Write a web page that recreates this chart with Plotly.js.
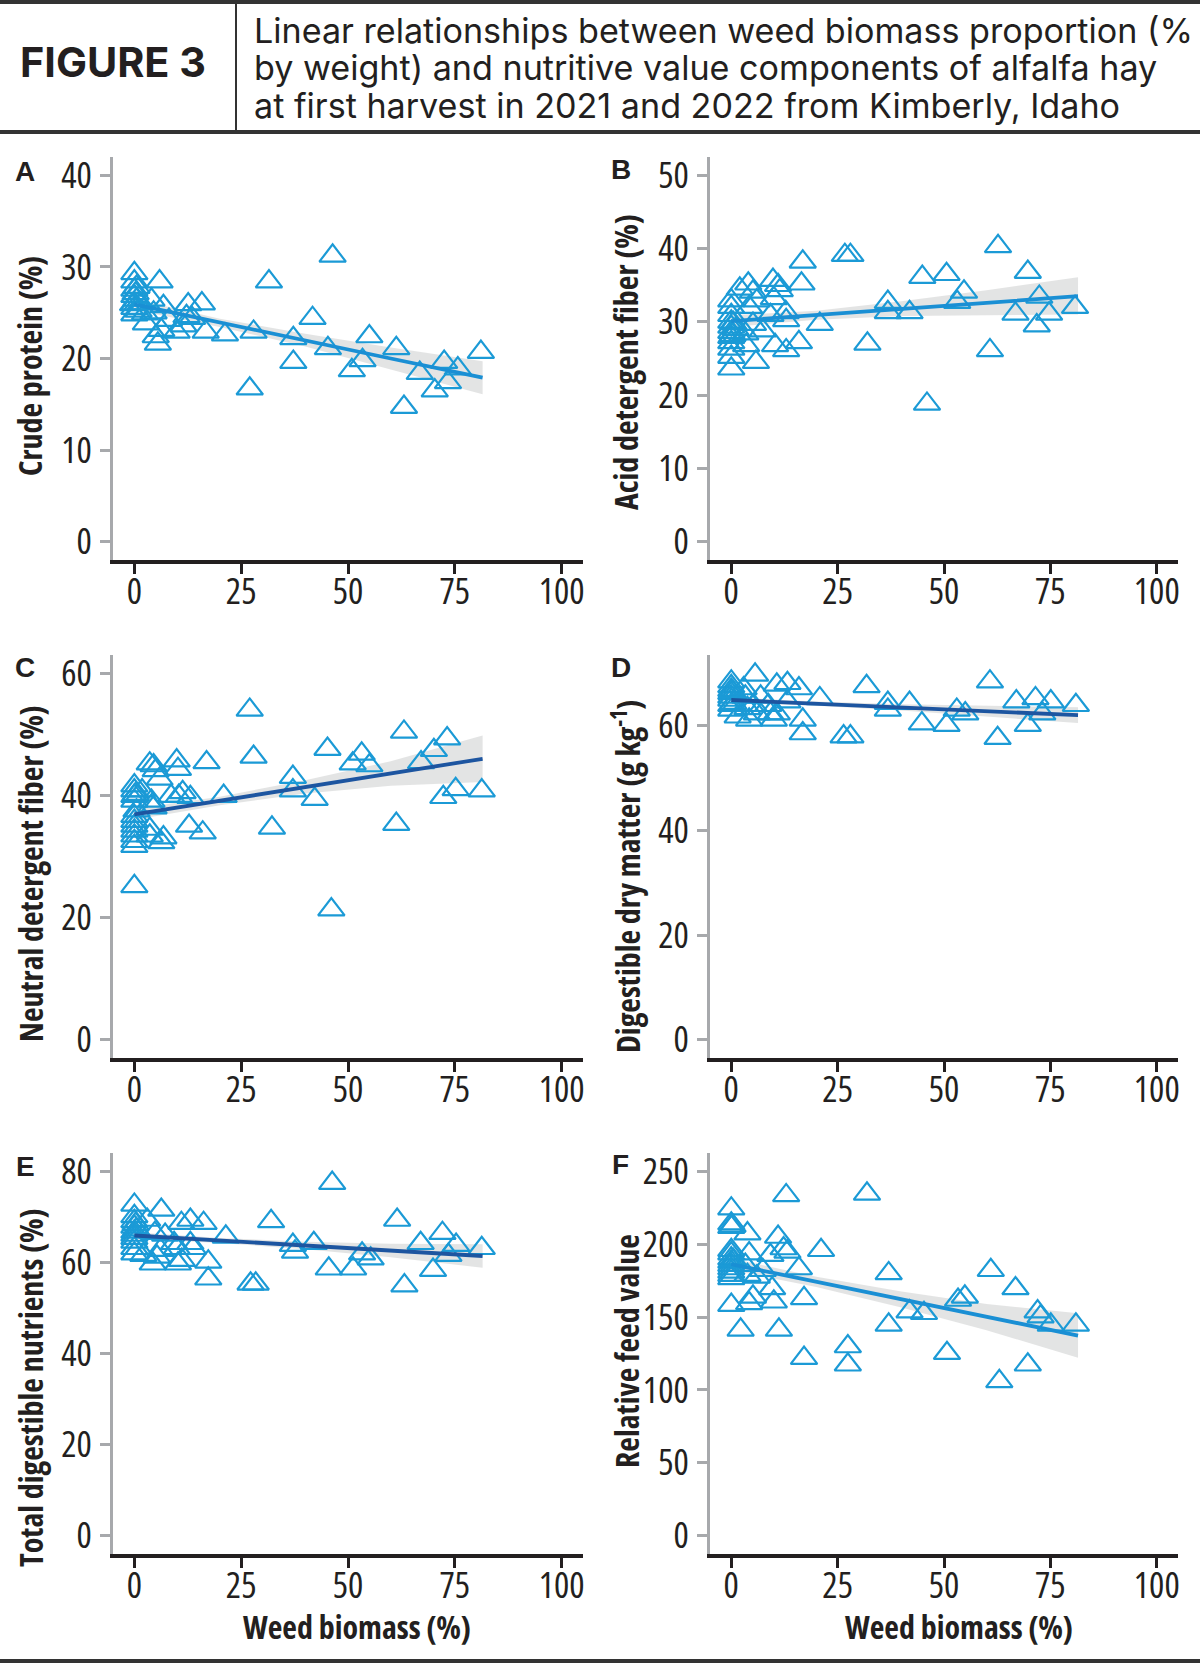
<!DOCTYPE html>
<html><head><meta charset="utf-8">
<script src="https://cdn.plot.ly/plotly-3.0.1.min.js"></script>
<style>html,body{margin:0;padding:0;background:#fff}#chart{width:1200px;height:1665px}</style>
</head><body><div id="chart"></div>
<script>
// ---------- DATA ----------
const xTickVals = [0, 25, 50, 75, 100];
const xAxisTitle = "Weed biomass (%)";
const headerLabel = "FIGURE 3";
const headerLines = [
  "Linear relationships between weed biomass proportion (%",
  "by weight) and nutritive value components of alfalfa hay",
  "at first harvest in 2021 and 2022 from Kimberly, Idaho"
];
const panelLetters = ["A", "B", "C", "D", "E", "F"];
const yTitles = ["Crude protein (%)", "Acid detergent fiber (%)", "Neutral detergent fiber (%)",
  "Digestible dry matter (g kg<sup>-1</sup>)", "Total digestible nutrients (%)", "Relative feed value"];
const yTickVals = [[0,10,20,30,40],[0,10,20,30,40,50],[0,20,40,60],[0,20,40,60],[0,20,40,60,80],[0,50,100,150,200,250]];
const yRanges = [[-2,42],[-2.5,52.5],[-3,63],[-3.5,73.5],[-4,84],[-12.5,262.5]];

// A: crude protein
const xA = [0,0,0,0,0,0,0,0.5,0.5,-0.3,0.3,1,1.5,5.9,4,6.8,2.7,5,5.5,6.3,8.1,9.9,12.2,12.6,13.5,15.8,16.7,21.2,27,27.9,31.5,37.2,37.2,41.7,45.3,46.4,50.9,53.4,55,61.3,63.1,66.8,70.3,72.5,73.4,75.7,81.1,2.5,4.5,11.5];
const yA = [29.3,28.4,27.5,26.8,26.0,25.5,24.8,27.8,26.4,25.9,27.1,25.2,26.0,28.4,26.4,25.7,23.8,22.4,21.6,23.1,24.2,22.9,24.6,25.9,24.4,26.0,22.9,22.6,16.7,22.9,28.4,22.2,19.6,24.4,21.1,31.2,18.7,19.8,22.4,21.1,14.7,18.4,16.5,19.6,17.4,18.9,20.7,24.9,25.0,23.6];
// B: acid detergent fiber
const xB = [0,0,0,0,0,0,0,0,0,0,0,0.5,0.3,1,2,4,5.1,6,4.2,3.3,3.5,5.1,5.8,7.4,9.2,9.8,10,11,11.4,12.8,12.9,10.3,12.9,15.9,16.5,16.8,20.8,26.7,28,32,36.8,36.8,41.9,44.9,46,50.6,53.1,54.7,60.8,62.7,66.8,69.7,71.8,72.4,74.7,80.8];
const yB = [32.9,32.0,30.9,30.0,29.3,28.6,27.9,27.2,26.3,25.2,23.6,29.8,28.2,29.0,34.5,35.2,34.1,32.9,32.0,28.4,26.8,29.7,24.5,28.8,30.9,35.7,33.2,35.0,34.3,31.3,30.2,26.8,26.1,27.2,35.2,38.2,29.7,39.1,39.1,27.0,32.7,31.3,31.3,36.1,18.8,36.5,32.7,34.1,26.1,40.3,31.1,36.8,29.5,33.4,31.1,32.0];
// C: neutral detergent fiber
const xC = [0,0,0,0,0,0,0,0,0,0,0,0,0.5,0.3,1.8,3.6,4.5,5,4,4,4.5,3.6,3.6,5.9,6.8,6.3,8.6,9.9,10.2,10.4,11.3,13.1,12.8,16,16.9,20.9,27,27.9,32.2,37.1,37.1,42.2,45.2,46.1,51.1,53.2,55,61.3,63.1,67.1,70.1,72.3,73.2,75.2,81.3];
const yC = [41.6,40.8,39.9,39.1,36.6,35.8,35.0,34.2,33.4,32.5,31.7,25.1,37.5,40.2,40.8,45.2,44.9,44.1,39.1,38.3,38.0,34.5,33.4,42.7,33.1,32.3,39.9,45.7,44.3,39.9,40.5,39.7,35.0,33.9,45.4,39.9,54.0,46.3,34.7,43.0,40.8,39.4,47.6,21.3,45.2,46.8,44.9,35.3,50.4,45.4,47.4,39.7,49.3,41.0,40.8];
// D: digestible dry matter
const xD = [0,0,0,0,0,0,0,0,0.5,0.3,2.9,3.3,3.8,1.5,4.2,5.6,5.2,6,6.9,8.7,9.2,10,10.7,10.7,13.2,13.2,15.9,16.8,16.8,20.8,26.4,28,31.8,36.8,36.8,41.9,44.8,50.6,53,55,60.8,62.6,67,69.7,71.5,73.1,75.1,81];
const yD = [68.4,67.5,66.8,66.2,65.5,64.9,63.9,63.0,64.3,66.5,67.1,65.5,63.3,61.7,61.1,69.7,63.9,62.3,65.5,63.9,62.3,61.1,67.8,62.3,68.1,64.6,67.1,61.1,58.5,65.2,57.9,57.9,67.5,64.3,63.0,64.3,60.4,60.1,63.0,62.3,68.4,57.6,64.6,60.1,65.2,62.3,64.6,63.9];
// E: total digestible nutrients
const xE = [0,0,0,0,0,0,0,0,0,0,0.5,0.3,3,2.1,4.3,5.3,4.8,6.3,6.1,7.2,9.3,9.9,10.2,11.1,11,13.1,13.1,13.7,16.2,17.3,17.3,21.4,27.2,28.4,32,37.1,37.6,42,45.5,46.3,51.2,53.3,55.3,61.5,63.2,67,69.9,72.1,73.5,75.3,81.3];
const yE = [72.6,70.1,69.0,67.8,66.7,66.0,65.3,64.5,63.1,61.9,67.2,68.4,69.3,61.6,59.7,61.2,66.4,71.5,62.7,66.0,64.2,63.1,59.7,60.5,68.6,69.3,64.2,63.1,68.6,60.1,56.4,65.6,55.3,55.3,69.0,63.8,62.3,64.2,58.6,77.4,58.6,61.9,60.8,69.3,54.9,64.2,58.3,66.4,61.6,63.8,63.1];
// F: relative feed value
const xF = [0,0,0,0,0,0,0,0,0,0,0,0,0,0.3,0.5,2.2,3.8,4.2,3.3,3.8,5.1,4.2,6,7.4,9.2,9.6,10,11,11.2,12.3,13.2,12.9,15.9,17.1,17.1,21.1,27.4,27.4,31.9,37,37,41.9,45.3,50.7,53.3,54.9,61,63,66.8,69.7,72,72.7,75.1,81];
const yF = [224.3,214.0,211.7,195.8,193.5,190.1,187.8,185.6,183.3,181.0,178.7,176.5,158.2,212.5,189.0,141.2,207.2,193.5,185.6,178.7,163.9,159.4,177.6,182.1,192.4,169.6,160.5,204.9,141.2,197.0,194.7,233.4,183.3,162.8,121.8,195.8,129.8,117.3,234.5,179.9,144.6,153.7,152.6,125.2,161.7,163.9,182.1,105.9,169.6,117.3,153.7,150.3,144.6,144.6];

// fitted lines and confidence bands
const fitX = [0, 20, 40, 60, 81.5];
const fitA = [25.9, 23.9, 22.0, 20.0, 17.9];
const upA  = [26.5, 24.35, 22.7, 21.2, 19.7];
const loA  = [25.3, 23.45, 21.3, 18.8, 16.1];
const fitB = [30.1, 30.9, 31.8, 32.6, 33.5];
const upB  = [30.9, 31.5, 32.8, 34.3, 36.1];
const loB  = [29.3, 30.3, 30.8, 30.9, 31.0];
const fitC = [36.9, 39.1, 41.4, 43.6, 46.0];
const upC  = [37.8, 39.8, 42.5, 45.6, 49.8];
const loC  = [36.0, 38.4, 40.3, 41.6, 42.2];
const fitD = [64.9, 64.2, 63.5, 62.8, 62.0];
const upD  = [65.4, 64.6, 64.1, 63.8, 63.5];
const loD  = [64.4, 63.8, 62.9, 61.8, 60.5];
const fitE = [65.9, 64.8, 63.7, 62.6, 61.4];
const upE  = [66.6, 65.35, 64.5, 64.1, 64.0];
const loE  = [65.2, 64.25, 62.9, 61.1, 58.8];
const fitF = [186.2, 174.1, 162.0, 150.0, 137.3];
const upF  = [190.2, 177.6, 167.5, 159.0, 152.6];
const loF  = [182.2, 170.6, 156.5, 141.0, 122.0];

// ---------- FONT HANDLING ----------
function measure(text, family, weight, stretch, size) {
  const s = document.createElement("span");
  s.style.cssText = "position:absolute;left:-9999px;top:0;white-space:nowrap;font-family:" + family +
    ";font-weight:" + weight + ";font-stretch:" + stretch + ";font-size:" + size + "px";
  s.textContent = text; document.body.appendChild(s);
  const w = s.getBoundingClientRect().width; s.remove(); return w;
}
const probe = "Weed biomass (%) 0123456789";
const monoW = measure(probe, "monospace", 700, "normal", 40);
const candidates = [
  {f: "'Liberation Sans Narrow'", st: "normal"},
  {f: "'Roboto Condensed'", st: "normal"},
  {f: "'DejaVu Sans Condensed'", st: "normal"},
  {f: "'Open Sans'", st: "75%"},
  {f: "'Noto Sans'", st: "62.5%"},
  {f: "'Liberation Sans'", st: "normal"}
];
let best = null, bestW = 1e9;
candidates.forEach(c => {
  const w = measure(probe, c.f + ", monospace", 700, c.st, 40);
  if (Math.abs(w - monoW) > 0.5 && w < bestW) { bestW = w; best = c; }
});
if (!best) best = {f: "sans-serif", st: "normal"};
const NARROW = best.f + ", sans-serif";
const STRETCH = best.st;
// applies to the chart and to Plotly's hidden text-measuring svg alike
document.head.insertAdjacentHTML("beforeend",
  "<style>svg text{font-stretch:" + STRETCH + "}</style>");
const fit = (text, weight, target, maxSize) =>
  Math.min(maxSize, 40 * target / measure(text, NARROW, weight, STRETCH, 40));
const tickSize = fit("100", 400, 50, 36);
const titleSize = fit(xAxisTitle, 700, 228, 32);

const HEAD = "Inter, Roboto, sans-serif";
const headSize = Math.min(36, 40 * 939 / measure(headerLines[0], HEAD, 400, STRETCH, 40));
const figSize = Math.min(48, 40 * 186 / measure(headerLabel, HEAD, 700, STRETCH, 40));

// ---------- STYLE / LAYOUT ----------
const W = 1200, H = 1665;
const px = v => v / W, py = v => 1 - v / H;
const INK = "#231f20", GREY = "#a7a9ac", MARK = "#1b9ad6";
const LIGHT = "#1a8fd4", DARK = "#1d55a0";
const cols = [[113, 583], [710, 1178]];
const rows = [[157, 560], [655, 1058], [1153, 1554]];

const panels = [
  {x: xA, y: yA, fit: fitA, up: upA, lo: loA, lc: LIGHT},
  {x: xB, y: yB, fit: fitB, up: upB, lo: loB, lc: LIGHT},
  {x: xC, y: yC, fit: fitC, up: upC, lo: loC, lc: DARK},
  {x: xD, y: yD, fit: fitD, up: upD, lo: loD, lc: DARK},
  {x: xE, y: yE, fit: fitE, up: upE, lo: loE, lc: DARK},
  {x: xF, y: yF, fit: fitF, up: upF, lo: loF, lc: LIGHT}
];
const yTitlePos = [[30, 366], [626, 362], [30, 874], [626, 876], [30, 1388], [626, 1351]];
const letterPos = [[25, 171], [621, 169], [25, 667], [621, 667], [25, 1166], [620, 1164]];

const traces = [];
const layout = {
  width: W, height: H, margin: {l: 0, r: 0, t: 0, b: 0},
  paper_bgcolor: "#fff", plot_bgcolor: "rgba(0,0,0,0)", showlegend: false,
  font: {family: NARROW, color: INK},
  annotations: [], shapes: []
};

panels.forEach((p, i) => {
  const n = i + 1;
  const xa = "x" + (n === 1 ? "" : n), ya = "y" + (n === 1 ? "" : n);
  const c = cols[i % 2], r = rows[Math.floor(i / 2)];
  traces.push({x: fitX.concat(fitX.slice().reverse()), y: p.up.concat(p.lo.slice().reverse()),
    xaxis: xa, yaxis: ya, type: "scatter", mode: "lines", fill: "toself",
    fillcolor: "rgba(200,202,202,0.5)", line: {width: 0}, hoverinfo: "skip"});
  traces.push({x: p.x, y: p.y, xaxis: xa, yaxis: ya, type: "scatter", mode: "markers",
    marker: {symbol: "triangle-up-open", size: 23, color: MARK, line: {width: 2.2, color: MARK}}});
  traces.push({x: fitX, y: p.fit, xaxis: xa, yaxis: ya, type: "scatter", mode: "lines",
    line: {color: p.lc, width: 3.8}});
  layout["xaxis" + (n === 1 ? "" : n)] = {
    domain: [px(c[0]), px(c[1])], anchor: ya, range: [-5, 105], tickvals: xTickVals,
    ticks: "outside", ticklen: 10, tickwidth: 3, tickcolor: INK, showline: true,
    linecolor: INK, linewidth: 3.5, showgrid: false, zeroline: false,
    ticklabelstandoff: -13,
    tickfont: {family: NARROW, size: tickSize, color: INK}
  };
  layout["yaxis" + (n === 1 ? "" : n)] = {
    domain: [py(r[1]), py(r[0])], anchor: xa, range: yRanges[i], tickvals: yTickVals[i],
    ticks: "outside", ticklen: 10, tickwidth: 3, tickcolor: GREY, showline: true,
    linecolor: GREY, linewidth: 3, showgrid: false, zeroline: false,
    ticklabelstandoff: 1,
    tickfont: {family: NARROW, size: tickSize, color: INK}
  };
  layout.annotations.push({text: yTitles[i], xref: "paper", yref: "paper",
    x: px(yTitlePos[i][0]), y: py(yTitlePos[i][1]), textangle: -90, showarrow: false,
    xanchor: "center", yanchor: "middle",
    font: {family: NARROW, size: titleSize, color: INK, weight: 700}});
  layout.annotations.push({text: panelLetters[i], xref: "paper", yref: "paper",
    x: px(letterPos[i][0]), y: py(letterPos[i][1]), showarrow: false,
    xanchor: "center", yanchor: "middle",
    font: {family: "'Liberation Sans', Arial, sans-serif", size: 28, color: INK, weight: 700}});
});

// x-axis titles (bottom row)
[[357, 1626], [959, 1626]].forEach(pos => {
  layout.annotations.push({text: xAxisTitle, xref: "paper", yref: "paper",
    x: px(pos[0]), y: py(pos[1]), showarrow: false, xanchor: "center", yanchor: "middle",
    font: {family: NARROW, size: titleSize, color: INK, weight: 700}});
});

// header
layout.annotations.push({text: headerLabel, xref: "paper", yref: "paper",
  x: px(113), y: py(62), showarrow: false, xanchor: "center", yanchor: "middle",
  font: {family: HEAD, size: figSize, color: INK, weight: 700}});
[31, 68, 106].forEach((yy, k) => {
  layout.annotations.push({text: headerLines[k], xref: "paper", yref: "paper",
    x: px(252), y: py(yy), showarrow: false, xanchor: "left", yanchor: "middle",
    font: {family: HEAD, size: headSize, color: INK}});
});
const hl = (x0, y0, x1, y1, w) => ({type: "line", xref: "paper", yref: "paper",
  x0: px(x0), y0: py(y0), x1: px(x1), y1: py(y1), line: {color: "#333333", width: w}});
layout.shapes.push(hl(0, 2, W, 2, 4));
layout.shapes.push(hl(0, 132, W, 132, 4));
layout.shapes.push(hl(236, 3, 236, 131, 2));
layout.shapes.push(hl(0, 1661, W, 1661, 4));

Plotly.newPlot("chart", traces, layout, {staticPlot: true, displayModeBar: false});
</script>
</body></html>
